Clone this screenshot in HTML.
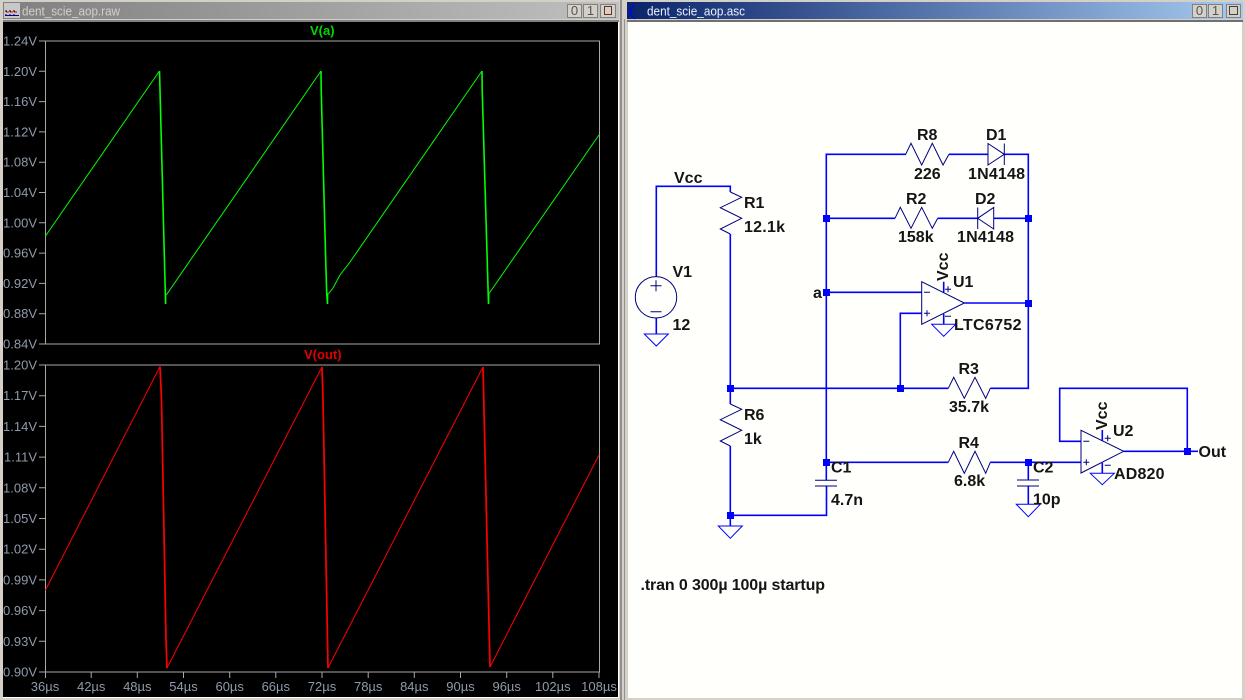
<!DOCTYPE html>
<html>
<head>
<meta charset="utf-8">
<title>dent_scie_aop</title>
<style>
html,body{margin:0;padding:0;background:#d4d0c8;width:1245px;height:700px;overflow:hidden}
svg{display:block}
.ax{font:13px "Liberation Sans",sans-serif;fill:#8f9bab;font-weight:normal}
.l{font:bold 16px "Liberation Sans",sans-serif;fill:#151515}
.w{fill:none;stroke:#0000ff;stroke-width:1.6}
.c{fill:none;stroke:#000080;stroke-width:1}
.j{fill:#0000ff}
.b{fill:#d4d0c8;stroke:#808080;stroke-width:1}
.bt{font:13px "Liberation Sans",sans-serif;fill:#555;text-anchor:middle}
</style>
</head>
<body>
<svg width="1245" height="700" viewBox="0 0 1245 700" xmlns="http://www.w3.org/2000/svg">
<defs>
<linearGradient id="tg" x1="0" x2="1" y1="0" y2="0"><stop offset="0" stop-color="#808080"/><stop offset="1" stop-color="#c0c0c0"/></linearGradient>
<linearGradient id="tb" x1="0" x2="1" y1="0" y2="0"><stop offset="0" stop-color="#0a246a"/><stop offset="1" stop-color="#a6caf0"/></linearGradient>
</defs>
<rect width="1245" height="700" fill="#d4d0c8"/>

<!-- left window -->
<rect x="3" y="2" width="616" height="17" fill="url(#tg)"/>
<rect x="4" y="3" width="16" height="15" fill="#c8c8c8"/>
<path d="M5 11h11M5 15h11" stroke="#000" stroke-width="1" stroke-dasharray="2 2" fill="none"/>
<path d="M6 12h12" stroke="#e00000" stroke-width="1" stroke-dasharray="3 1"/>
<path d="M5 15.5h14" stroke="#0000a0" stroke-width="1"/>
<text x="22" y="15.5" textLength="98" lengthAdjust="spacingAndGlyphs" style="font:13px 'Liberation Sans',sans-serif" fill="#d4d0c8">dent_scie_aop.raw</text>
<rect x="567.5" y="4.5" width="14" height="13" class="b"/><text x="574.5" y="15" class="bt">0</text>
<rect x="583.5" y="4.5" width="14" height="13" class="b"/><text x="590.5" y="15" class="bt">1</text>
<rect x="600.5" y="4.5" width="15" height="13" class="b"/><rect x="604.5" y="6.5" width="7" height="8" fill="none" stroke="#6a3020"/>
<rect x="3" y="20" width="616" height="2" fill="#808080"/>
<rect x="3" y="22" width="615" height="675" fill="#000"/>
<rect x="618" y="22" width="1" height="675" fill="#fff"/>
<rect x="3" y="697" width="616" height="1" fill="#fff"/>
<rect x="620" y="0" width="2" height="700" fill="#909090"/>
<rect x="0" y="0" width="2" height="700" fill="#d4d0c8"/>

<!-- plots -->
<g fill="none" stroke="#a8a8a8" stroke-width="1">
<rect x="45.5" y="41" width="554" height="303"/>
<rect x="45.5" y="365" width="554" height="307"/>
<path d="M39 41h6M39 71.3h6M39 101.6h6M39 131.9h6M39 162.2h6M39 192.5h6M39 222.8h6M39 253.1h6M39 283.4h6M39 313.7h6M39 344h6"/>
<path d="M39 365h6M39 395.7h6M39 426.4h6M39 457.1h6M39 487.8h6M39 518.5h6M39 549.2h6M39 579.9h6M39 610.6h6M39 641.3h6M39 672h6"/>
<path d="M45.5 672v6M91.2 672v6M137.3 672v6M183.5 672v6M229.7 672v6M275.8 672v6M322 672v6M368.2 672v6M414.3 672v6M460.5 672v6M506.7 672v6M552.8 672v6M599 672v6"/>
</g>
<g class="ax" text-anchor="end">
<text x="37" y="45.5">1.24V</text><text x="37" y="75.8">1.20V</text><text x="37" y="106.1">1.16V</text><text x="37" y="136.4">1.12V</text><text x="37" y="166.7">1.08V</text><text x="37" y="197">1.04V</text><text x="37" y="227.3">1.00V</text><text x="37" y="257.6">0.96V</text><text x="37" y="287.9">0.92V</text><text x="37" y="318.2">0.88V</text><text x="37" y="348.5">0.84V</text>
<text x="37" y="369.5">1.20V</text><text x="37" y="400.2">1.17V</text><text x="37" y="430.9">1.14V</text><text x="37" y="461.6">1.11V</text><text x="37" y="492.3">1.08V</text><text x="37" y="523">1.05V</text><text x="37" y="553.7">1.02V</text><text x="37" y="584.4">0.99V</text><text x="37" y="615.1">0.96V</text><text x="37" y="645.8">0.93V</text><text x="37" y="676.5">0.90V</text>
</g>
<g class="ax" text-anchor="middle">
<text x="45" y="691">36µs</text><text x="91.2" y="691">42µs</text><text x="137.3" y="691">48µs</text><text x="183.5" y="691">54µs</text><text x="229.7" y="691">60µs</text><text x="275.8" y="691">66µs</text><text x="322" y="691">72µs</text><text x="368.2" y="691">78µs</text><text x="414.3" y="691">84µs</text><text x="460.5" y="691">90µs</text><text x="506.7" y="691">96µs</text><text x="552.8" y="691">102µs</text><text x="599" y="691">108µs</text>
</g>
<text x="310" y="35" style="font:bold 13px 'Liberation Sans',sans-serif" fill="#00d800">V(a)</text>
<text x="304" y="359" style="font:bold 13px 'Liberation Sans',sans-serif" fill="#e00000">V(out)</text>
<polyline fill="none" stroke="#00ff00" stroke-width="1" points="45.5,236 159.5,71"/>
<polyline fill="none" stroke="#00ff00" stroke-width="1" points="165.6,295 167,294 321,71"/>
<polyline fill="none" stroke="#00ff00" stroke-width="1" points="327.5,294 329,293 333,288 340,275 350,262 482,71"/>
<polyline fill="none" stroke="#00ff00" stroke-width="1" points="488.7,294 599,135"/>
<g fill="none" stroke="#00ff00" stroke-width="1.6">
<polyline points="159.5,71 160,90 165.6,304 165.6,295"/>
<polyline points="321,71 321.2,90 325.7,260 326.7,293 327.5,304 327.5,294"/>
<polyline points="482,71 482.2,90 488.5,304 488.7,294"/>
</g>
<polyline fill="none" stroke="#ff0000" stroke-width="1" points="45.5,590 160,366.5"/>
<polyline fill="none" stroke="#ff0000" stroke-width="1" points="167,668 322,367"/>
<polyline fill="none" stroke="#ff0000" stroke-width="1" points="328,668 483,367"/>
<polyline fill="none" stroke="#ff0000" stroke-width="1" points="490,667 599,455"/>
<g fill="none" stroke="#ff0000" stroke-width="1.7">
<polyline points="160,366.5 161.5,400 166,640 167,668"/>
<polyline points="322,367 323,400 328,668"/>
<polyline points="483,367 484,410 490,667"/>
</g>

<!-- right window -->
<rect x="623" y="0" width="622" height="2" fill="#d4d0c8"/>
<rect x="627" y="2" width="616" height="17" fill="url(#tb)"/>
<path d="M634 5 L631 9V15L635 19M628 12h3M631 9l3-3M631 15l3 3" fill="none" stroke="#0000ff" stroke-width="1.2"/>
<text x="647" y="15.5" textLength="98" lengthAdjust="spacingAndGlyphs" style="font:13px 'Liberation Sans',sans-serif" fill="#eef2fa">dent_scie_aop.asc</text>
<rect x="1192.5" y="4.5" width="14" height="13" class="b"/><text x="1199.5" y="15" class="bt">0</text>
<rect x="1208.5" y="4.5" width="14" height="13" class="b"/><text x="1215.5" y="15" class="bt">1</text>
<rect x="1226.5" y="4.5" width="14" height="13" class="b"/><rect x="1229.5" y="6.5" width="8" height="8" fill="none" stroke="#404040"/>
<rect x="627" y="20" width="616" height="2" fill="#707070"/>
<rect x="628" y="22" width="614" height="676" fill="#fffffb"/>
<rect x="624" y="19" width="1" height="681" fill="#909090"/>

<!-- wires -->
<g class="w">
<path d="M656.3 277V186.3H730.3V192"/>
<path d="M656.3 318V334"/>
<path d="M730.3 234V404M730.3 446V526"/>
<path d="M730.3 515.3H826.5V486"/>
<path d="M826.3 480V154.3H906"/>
<path d="M949 154.3H988M1004.3 154.3H1028.3V388.3H990.3"/>
<path d="M826.3 218.3H895M937.7 218.3H977.7M993.7 218.3H1028.3"/>
<path d="M826.3 292.3H921.7"/>
<path d="M964.3 303H1028.3"/>
<path d="M921.7 313.3H900.3V388.3"/>
<path d="M730.3 388.3H948.3"/>
<path d="M943.7 281.7V292.3M943.7 314V324.3"/>
<path d="M826.3 462.3H948.3M990.3 462.3H1081"/>
<path d="M1028.3 462.3V480M1028.3 486V504.3"/>
<path d="M1081 441.3H1059.7V388.3H1187.3V451.3"/>
<path d="M1123.7 451.3H1198"/>
<path d="M1102.3 430V441M1102.3 462.7V473.3"/>
</g>

<!-- components -->
<g class="c">
<circle cx="656" cy="297.3" r="20.7"/>
<path d="M650.5 285.7h11M656 280.2v11M650.5 311.7h11"/>
<polyline points="730.3,192 741.7,197.3 720.3,207.7 741.7,218.3 720.3,229 730.3,234"/>
<polyline points="730.3,404 741.7,409.3 720.3,419.7 741.7,430.3 720.3,441 730.3,446"/>
<polyline points="905.7,154.3 911,143.3 921.7,165 932.3,143.3 943,165 949,154.3"/>
<polyline points="895,218.3 900.3,207.3 911,228.3 921.7,207.3 932.3,228.3 937.7,218.3"/>
<polyline points="948.3,388.3 953.7,377.3 964.3,398.3 975,377.3 985.7,398.3 990.3,388.3"/>
<polyline points="948.3,462.3 953.7,451.3 964.3,473.3 975,451.3 985.7,473.3 990.3,462.3"/>
<path d="M988 143.5V165L1004.3 154.3ZM1004.3 143.5V165"/>
<path d="M993.7 207.5V229L977.7 218.3ZM977.7 207.5V229"/>
<path d="M921.7 281.7V324.3L964.3 303Z"/>
<path d="M1081 430.3V473L1123.7 451.3Z"/>
<path d="M924 292.3h6M924 313.3h6M927 310.3v6M945 289.3h6M948 286.3v6M945 316.3h6"/>
<path d="M1083.3 441.3h6M1083.3 462.3h6M1086.3 459.3v6M1104.7 438.3h6M1107.7 435.3v6M1104.7 465.3h6"/>
<path d="M815 480.3H837M815 486H837"/>
<path d="M1017 480H1039M1017 486H1039"/>
</g>
<g fill="none" stroke="#0000ff" stroke-width="1">
<path d="M644.3 334H668.3L656.3 346Z"/>
<path d="M718.3 526H742.3L730.3 538.3Z"/>
<path d="M931.7 324.3H955.7L943.7 336.3Z"/>
<path d="M1090.3 473.3H1114.3L1102.3 484.7Z"/>
<path d="M1016.3 504.3H1040.3L1028.3 516.7Z"/>
</g>

<!-- junctions -->
<g class="j">
<rect x="823" y="215" width="7" height="7"/>
<rect x="823" y="289" width="7" height="7"/>
<rect x="823" y="459" width="7" height="7"/>
<rect x="1025" y="215" width="7" height="7"/>
<rect x="1025" y="300" width="7" height="7"/>
<rect x="1025" y="459" width="7" height="7"/>
<rect x="897" y="385" width="7" height="7"/>
<rect x="727" y="385" width="7" height="7"/>
<rect x="727" y="512" width="7" height="7"/>
<rect x="1184" y="448" width="7" height="7"/>
</g>

<!-- labels -->
<g class="l">
<text x="674" y="183">Vcc</text>
<text x="672.5" y="277">V1</text>
<text x="672.5" y="330">12</text>
<text x="744" y="208">R1</text>
<text x="744" y="232" textLength="41">12.1k</text>
<text x="744" y="420">R6</text>
<text x="744" y="444">1k</text>
<text x="917" y="140">R8</text>
<text x="914" y="179">226</text>
<text x="986" y="140">D1</text>
<text x="968" y="179" textLength="57">1N4148</text>
<text x="906" y="204">R2</text>
<text x="898" y="242">158k</text>
<text x="975" y="204">D2</text>
<text x="957" y="242" textLength="57">1N4148</text>
<text x="813" y="298">a</text>
<text x="953" y="287">U1</text>
<text x="954" y="330" textLength="67.5">LTC6752</text>
<text x="0" y="0" transform="translate(948 281) rotate(-90)">Vcc</text>
<text x="958.5" y="374">R3</text>
<text x="949" y="412">35.7k</text>
<text x="958.5" y="448">R4</text>
<text x="954" y="486">6.8k</text>
<text x="831" y="472.5">C1</text>
<text x="831" y="505">4.7n</text>
<text x="1033" y="472.5">C2</text>
<text x="1033" y="504.5">10p</text>
<text x="0" y="0" transform="translate(1107 430) rotate(-90)">Vcc</text>
<text x="1113" y="436">U2</text>
<text x="1114" y="479" textLength="50.5">AD820</text>
<text x="1198.5" y="457">Out</text>
<text x="640.5" y="590" textLength="184.5">.tran 0 300µ 100µ startup</text>
</g>
</svg>
</body>
</html>
